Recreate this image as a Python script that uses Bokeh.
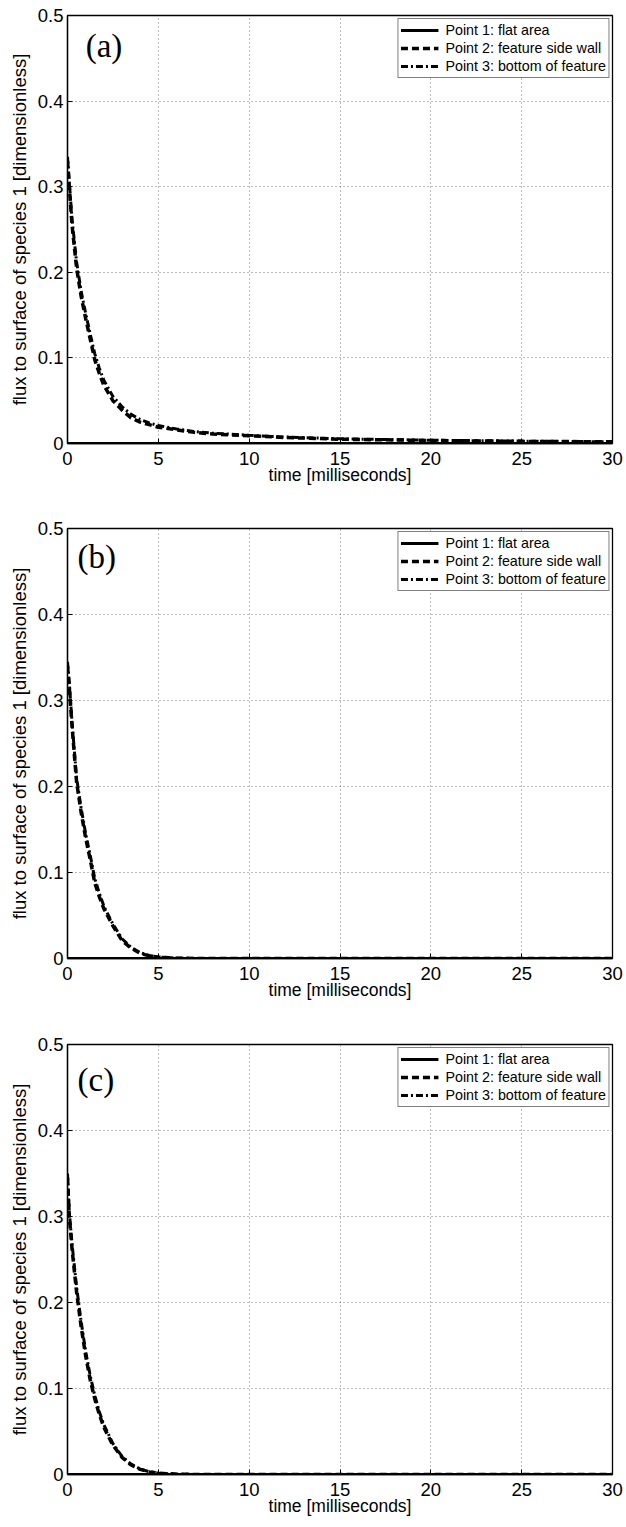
from bokeh.plotting import figure
from bokeh.layouts import column
from bokeh.models import FixedTicker, Range1d, Legend, LegendItem
from bokeh.core.properties import value
from bokeh.embed import file_html
from bokeh.resources import INLINE

# ---- data (time in milliseconds) ----
time_ms = [0, 0.1, 0.25, 0.5, 0.75, 1.0, 1.25, 1.5, 1.75, 2.0, 2.5, 3.0, 3.5, 4.0,
           4.5, 5, 6, 7, 8, 9, 10, 12, 15, 20, 25, 30]

a_point1 = [0.0] * 26
a_point2 = [0.330, 0.300, 0.255, 0.205, 0.172, 0.146, 0.122, 0.098, 0.082, 0.068, 0.050,
            0.039, 0.030, 0.025, 0.022, 0.019, 0.016, 0.013, 0.011, 0.010, 0.009, 0.007,
            0.005, 0.0035, 0.0025, 0.002]
a_point3 = [0.335, 0.305, 0.262, 0.212, 0.178, 0.152, 0.128, 0.105, 0.088, 0.074, 0.055,
            0.043, 0.034, 0.028, 0.024, 0.021, 0.017, 0.014, 0.012, 0.011, 0.0095, 0.0075,
            0.0055, 0.0038, 0.0028, 0.002]

b_point1 = [0.0] * 26
b_point2 = [0.340, 0.315, 0.270, 0.205, 0.170, 0.140, 0.115, 0.088, 0.072, 0.058, 0.038,
            0.021, 0.012, 0.006, 0.003, 0.0015, 0.0004, 0.0001, 0, 0, 0, 0, 0, 0, 0, 0]
b_point3 = [0.345, 0.320, 0.275, 0.210, 0.175, 0.145, 0.120, 0.093, 0.076, 0.061, 0.040,
            0.023, 0.013, 0.007, 0.0035, 0.0018, 0.0005, 0.0001, 0, 0, 0, 0, 0, 0, 0, 0]

c_point1 = [0.0] * 26
c_point2 = [0.345, 0.300, 0.262, 0.212, 0.172, 0.138, 0.110, 0.088, 0.070, 0.055, 0.034,
            0.020, 0.011, 0.006, 0.003, 0.0015, 0.0004, 0.0001, 0, 0, 0, 0, 0, 0, 0, 0]
c_point3 = [0.350, 0.305, 0.268, 0.218, 0.178, 0.143, 0.115, 0.092, 0.073, 0.058, 0.036,
            0.021, 0.012, 0.0065, 0.0032, 0.0016, 0.0004, 0.0001, 0, 0, 0, 0, 0, 0, 0, 0]

legend_labels = ["Point 1: flat area", "Point 2: feature side wall", "Point 3: bottom of feature"]
panel_labels = ["(a)", "(b)", "(c)"]
x_ticks = [0, 5, 10, 15, 20, 25, 30]
y_ticks = [0, 0.1, 0.2, 0.3, 0.4, 0.5]
y_tick_labels = ["0", "0.1", "0.2", "0.3", "0.4", "0.5"]

SANS = "Liberation Sans"


def make_panel(label, label_x, label_y, p1, p2, p3, top, fh, bottom):
    p = figure(frame_width=545, frame_height=fh, min_border_left=67, min_border_right=14,
               min_border_top=top, min_border_bottom=bottom,
               x_range=Range1d(0, 30), y_range=Range1d(0, 0.5),
               output_backend="svg", toolbar_location=None)
    p.background_fill_color = "white"
    p.border_fill_color = "white"
    p.outline_line_color = "black"
    p.outline_line_width = 1.3

    r1 = p.line(time_ms, p1, line_color="black", line_width=3)
    r2 = p.line(time_ms, p2, line_color="black", line_width=3.5, line_dash="7 4")
    r3 = p.line(time_ms, p3, line_color="black", line_width=3, line_dash="7 3 2 3")

    p.text(x=[label_x], y=[label_y], text=[label], text_font=value("Liberation Serif"),
           text_font_size="33px", text_color="black", text_baseline="middle",
           text_align="left")

    # axes
    for ax in p.xaxis + p.yaxis:
        ax.axis_line_color = "black"
        ax.axis_line_width = 1.3
        ax.major_tick_in = 5
        ax.major_tick_out = 0
        ax.minor_tick_line_color = None
        ax.major_label_text_font = SANS
        ax.major_label_text_font_size = "18.5px"
        ax.major_label_text_color = "black"
        ax.axis_label_text_font = SANS
        ax.axis_label_text_font_style = "normal"
        ax.axis_label_text_color = "black"
    p.xaxis.ticker = FixedTicker(ticks=x_ticks)
    p.yaxis.ticker = FixedTicker(ticks=y_ticks)
    p.yaxis.major_label_overrides = {t: s for t, s in zip(y_ticks, y_tick_labels)}
    p.xaxis.axis_label = "time [milliseconds]"
    p.xaxis.axis_label_text_font_size = "17.5px"
    p.xaxis.major_label_standoff = 8
    p.xaxis.axis_label_standoff = -3
    p.yaxis.axis_label = "flux to surface of species 1 [dimensionless]"
    p.yaxis.axis_label_text_font_size = "18.5px"
    p.yaxis.major_label_standoff = 4
    p.yaxis.axis_label_standoff = 5

    # grid
    p.xgrid.ticker = FixedTicker(ticks=x_ticks)
    p.ygrid.ticker = FixedTicker(ticks=y_ticks)
    for g in (p.xgrid[0], p.ygrid[0]):
        g.grid_line_color = "#777777"
        g.grid_line_dash = "1 3"
        g.grid_line_width = 1

    legend = Legend(items=[LegendItem(label=legend_labels[0], renderers=[r1]),
                           LegendItem(label=legend_labels[1], renderers=[r2]),
                           LegendItem(label=legend_labels[2], renderers=[r3])],
                    location="top_right")
    legend.margin = 3
    legend.padding = 2
    legend.spacing = 0
    legend.label_height = 18
    legend.glyph_height = 18
    legend.glyph_width = 38
    legend.label_standoff = 7
    legend.label_text_font = SANS
    legend.label_text_font_size = "14.3px"
    legend.label_text_color = "black"
    legend.border_line_color = "black"
    legend.border_line_width = 1
    legend.background_fill_color = "white"
    legend.background_fill_alpha = 1
    p.add_layout(legend, "center")
    return p


pa = make_panel(panel_labels[0], 1.0, 0.464, a_point1, a_point2, a_point3, 15, 428, 57)
pb = make_panel(panel_labels[1], 0.55, 0.467, b_point1, b_point2, b_point3, 28, 430, 57)
pc = make_panel(panel_labels[2], 0.55, 0.459, c_point1, c_point2, c_point3, 29, 430, 53)

layout = column(pa, pb, pc, spacing=0)
open("out.html", "w").write(file_html(layout, INLINE))
